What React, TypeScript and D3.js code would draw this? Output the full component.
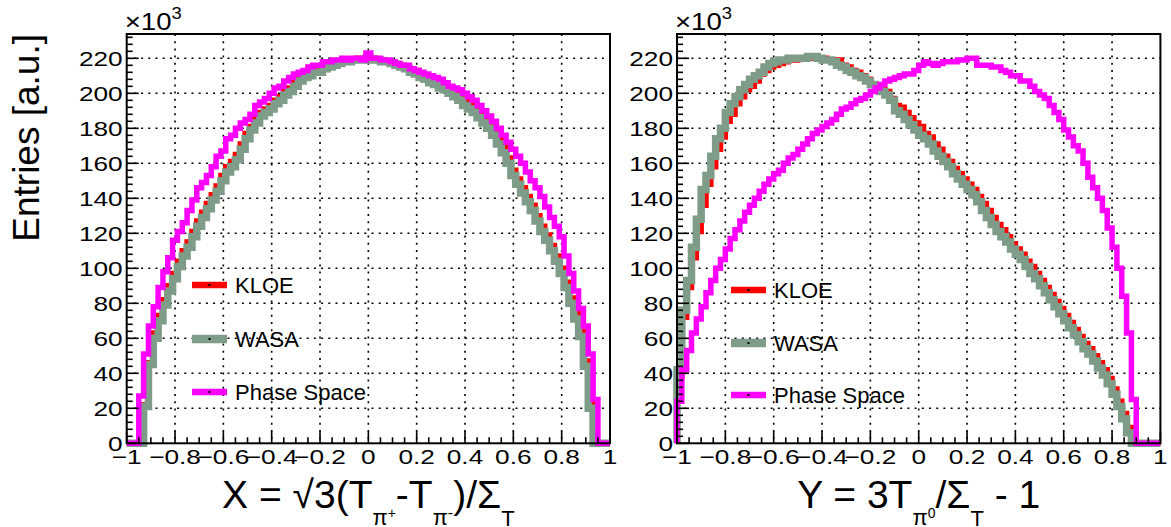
import React from 'react';
import * as d3 from 'd3';

const W = 1171;
const H = 527;

// ---------- data (values in units of 10^3 entries) ----------
const BIN_WIDTH = 0.02;
const X_FIRST_EDGE = -0.95; // left panel: first bin low edge
const Y_FIRST_EDGE = -1.0;  // right panel: first bin low edge

const psX = [27,51,67,78,89,98,106,116,121,126, 133,139,146,149,153,158,164,167,174,176,
  180,183,185,188,193,195,197,200,203,204, 207,209,211,212,213,215,216,216,218,218,
  219,219,220,219,220,220,219,223,
  220,220,219,219,218,217,216,216,214,213, 212,211,210,209,208,206,204,203,202,200,
  198,196,193,190,187,184,180,176,172,168, 164,160,155,150,146,141,135,129,124,118,
  107,97,87,77,67,51,25];
const kloeX = [0,22,46,63,73,82,90,97,104,110, 115,121,127,132,137,142,147,153,158,161,
  165,171,177,181,186,189,191,193,196,198, 201,203,206,209,210,212,213,214,216,216,
  217,218,219,219,219,220,220,220,
  220,219,219,218,218,217,216,215,214,213, 211,210,208,207,205,204,202,200,198,196,
  194,191,189,186,183,179,174,169,163,156, 151,146,141,136,130,124,119,113,107,100,
  92,83,74,64,47,23,0];
const wasaX = [0,21,45,60,70,79,87,94,101,107, 112,118,124,129,134,139,144,150,155,158,
  162,168,174,179,183,187,189,191,194,196, 199,201,204,207,209,210,212,212,214,215,
  216,217,218,218,219,219,219,220,
  219,219,218,218,217,216,215,214,212,211, 209,208,206,205,203,202,200,198,196,193,
  191,189,186,183,180,176,171,166,160,153, 148,143,138,133,127,121,116,110,104,97,
  89,80,71,61,44,20,0];

const psY = [24,42,53,63,71,78,86,93,100,105, 111,117,122,127,132,136,140,144,148,151,
  154,156,160,163,165,168,171,174,177,179, 181,183,185,188,191,192,194,196,197,199,
  201,203,205,207,208,209,210,211,211,213,
  216,218,217,216,217,218,218,218,219,219, 220,220,216,216,216,215,215,213,212,210,
  210,207,207,204,201,199,197,193,189,185, 179,175,170,167,160,152,146,140,133,123,
  112,100,84,63,25];
const kloeY = [38,72,89,106,121,136,148,158,168,175, 184,188,194,198,202,204,207,211,213,215,
  216,217,218,219,219,220,220,220,220,220, 220,219,219,219,216,215,213,212,210,208,
  205,204,202,201,197,193,192,189,186,183,
  181,177,175,171,168,164,161,157,154,151, 148,145,141,137,133,129,125,122,118,114,
  111,108,104,101,97,93,89,85,81,77, 73,69,65,61,57,54,50,46,42,37,
  31,24,17,9,0];
const wasaY = [42,76,93,112,128,145,153,164,174,180, 189,194,198,202,205,208,210,212,215,217,
  218,219,219,220,220,220,220,221,221,220, 219,219,218,216,215,213,212,210,209,207,
  205,203,201,199,196,190,188,185,182,179,
  176,174,171,167,164,161,158,154,151,148, 145,142,138,133,129,125,121,118,115,111,
  108,105,101,97,94,90,86,82,78,74, 70,66,62,58,54,51,47,43,39,34,
  28,21,14,6,0];

const yMajorTicks = [0, 20, 40, 60, 80, 100, 120, 140, 160, 180, 200, 220];
const yTickLabels = ['0', '20', '40', '60', '80', '100', '120', '140', '160', '180', '200', '220'];
const xMajorTicks = [-1, -0.8, -0.6, -0.4, -0.2, 0, 0.2, 0.4, 0.6, 0.8, 1];
const xTickLabels = ['\u22121', '\u22120.8', '\u22120.6', '\u22120.4', '\u22120.2', '0', '0.2', '0.4', '0.6', '0.8', '1'];
const legendLabels = ['KLOE', 'WASA', 'Phase Space'];
const seriesColors = ['#ff0000', '#7f9c88', '#ff00ff'];
const seriesWidths = [5.5, 7.5, 5.5];

// ---------- layout ----------
const FONT = '"Liberation Sans", Arial, Helvetica, sans-serif';
const FRAME_TOP = 34;
const FRAME_BOTTOM = 443.3;
const Y_MAX = 233.9;
const TICK_FS = 21;
const TICK_SX = 1.25;

function stepPath(values: number[], firstEdge: number, x: d3.ScaleLinear<number, number>, y: d3.ScaleLinear<number, number>) {
  const pts: [number, number][] = [];
  pts.push([x(-1), y(0)]);
  pts.push([x(firstEdge), y(0)]);
  values.forEach((v, i) => {
    const lo = firstEdge + i * BIN_WIDTH;
    const hi = lo + BIN_WIDTH;
    pts.push([x(lo), y(v)]);
    pts.push([x(hi), y(v)]);
  });
  const lastEdge = firstEdge + values.length * BIN_WIDTH;
  pts.push([x(lastEdge), y(0)]);
  pts.push([x(1), y(0)]);
  return d3.line()(pts) || '';
}

type PanelProps = {
  left: number;
  right: number;
  firstEdge: number;
  series: number[][];
  legendX: number;
  legendYs: number[];
  title: React.ReactNode;
};

function Panel({ left, right, firstEdge, series, legendX, legendYs, title }: PanelProps) {
  const x = d3.scaleLinear().domain([-1, 1]).range([left, right]);
  const y = d3.scaleLinear().domain([0, Y_MAX]).range([FRAME_BOTTOM, FRAME_TOP]);
  const yMinor = d3.range(0, Y_MAX, 4);
  const xMinor = d3.range(-1, 1.0001, 0.05);
  return (
    <g>
      {/* grid */}
      {yMajorTicks.filter((v) => v > 0).map((v) => (
        <line key={'gy' + v} x1={left} x2={right} y1={y(v)} y2={y(v)} stroke="#000" strokeWidth={1.6} strokeDasharray="2 5.2" />
      ))}
      {xMajorTicks.filter((v) => v > -1 && v < 1).map((v) => (
        <line key={'gx' + v} x1={x(v)} x2={x(v)} y1={FRAME_TOP} y2={FRAME_BOTTOM} stroke="#000" strokeWidth={1.6} strokeDasharray="2 5.2" />
      ))}
      {/* histograms */}
      {series.map((vals, i) => (
        <path key={'h' + i} d={stepPath(vals, firstEdge, x, y)} fill="none" stroke={seriesColors[i]} strokeWidth={seriesWidths[i]} strokeLinejoin="miter" />
      ))}
      {/* frame */}
      <rect x={left} y={FRAME_TOP} width={right - left} height={FRAME_BOTTOM - FRAME_TOP} fill="none" stroke="#000" strokeWidth={2} />
      {/* y ticks */}
      {yMinor.map((v) => {
        const major = Math.abs(v % 20) < 1e-6;
        return <line key={'ty' + v} x1={left} x2={left + (major ? 12 : 6)} y1={y(v)} y2={y(v)} stroke="#000" strokeWidth={1.6} />;
      })}
      {xMinor.map((v, i) => {
        const major = i % 4 === 0;
        return <line key={'tx' + i} x1={x(v)} x2={x(v)} y1={FRAME_BOTTOM} y2={FRAME_BOTTOM - (major ? 12 : 6)} stroke="#000" strokeWidth={1.6} />;
      })}
      {/* tick labels */}
      {yMajorTicks.map((v, i) => (
        <text key={'ly' + v} transform={`translate(${left - 4},${y(v) + 7.5}) scale(${TICK_SX},1)`} textAnchor="end" fontSize={TICK_FS} fontFamily={FONT}>{yTickLabels[i]}</text>
      ))}
      {xMajorTicks.map((v, i) => (
        <text key={'lx' + i} transform={`translate(${x(v)},${464}) scale(${TICK_SX},1)`} textAnchor="middle" fontSize={TICK_FS} fontFamily={FONT}>{xTickLabels[i]}</text>
      ))}
      {/* exponent */}
      <text transform={`translate(${left - 2},30) scale(1.15,1)`} fontSize={24} fontFamily={FONT}>
        ×10<tspan fontSize={16} dy={-11}>3</tspan>
      </text>
      {/* legend */}
      {legendLabels.map((lab, i) => (
        <g key={'lg' + i}>
          <line x1={legendX} x2={legendX + 35} y1={legendYs[i]} y2={legendYs[i]} stroke={seriesColors[i]} strokeWidth={seriesWidths[i] + 1} />
          <rect x={legendX + 16.5} y={legendYs[i] - 1} width={2} height={2} fill="#000" />
          <text x={legendX + 43} y={legendYs[i] + 8} fontSize={22} fontFamily={FONT}>{lab}</text>
        </g>
      ))}
      {/* axis title */}
      <text x={(left + right) / 2} y={508} textAnchor="middle" fontSize={39} fontFamily={FONT}>{title}</text>
    </g>
  );
}

export default function App() {
  return (
    <svg width={W} height={H} viewBox={`0 0 ${W} ${H}`} style={{ position: 'absolute', left: 0, top: 0, background: '#fff' }}>
      <rect x={0} y={0} width={W} height={H} fill="#fff" />
      <text transform="translate(39,34) rotate(-90)" textAnchor="end" fontSize={37} fontFamily={FONT}>Entries [a.u.]</text>
      <Panel
        left={126.7}
        right={610}
        firstEdge={X_FIRST_EDGE}
        series={[kloeX, wasaX, psX]}
        legendX={192}
        legendYs={[285, 339, 392]}
        title={
          <>
            X = √3(T<tspan fontSize={22} dy={17}>π</tspan><tspan fontSize={14} dy={-7}>+</tspan>
            <tspan fontSize={39} dy={-10}>-T</tspan><tspan fontSize={22} dy={17}>π</tspan><tspan fontSize={16} dy={-7}>-</tspan>
            <tspan fontSize={39} dy={-10}>)/Σ</tspan><tspan fontSize={22} dy={18}>T</tspan>
          </>
        }
      />
      <Panel
        left={677}
        right={1160.4}
        firstEdge={Y_FIRST_EDGE}
        series={[kloeY, wasaY, psY]}
        legendX={731}
        legendYs={[290, 343, 395]}
        title={
          <>
            Y = 3T<tspan fontSize={22} dy={17}>π</tspan><tspan fontSize={14} dy={-7}>0</tspan>
            <tspan fontSize={39} dy={-10}>/Σ</tspan><tspan fontSize={22} dy={18}>T</tspan>
            <tspan fontSize={39} dy={-18}> - 1</tspan>
          </>
        }
      />
    </svg>
  );
}
